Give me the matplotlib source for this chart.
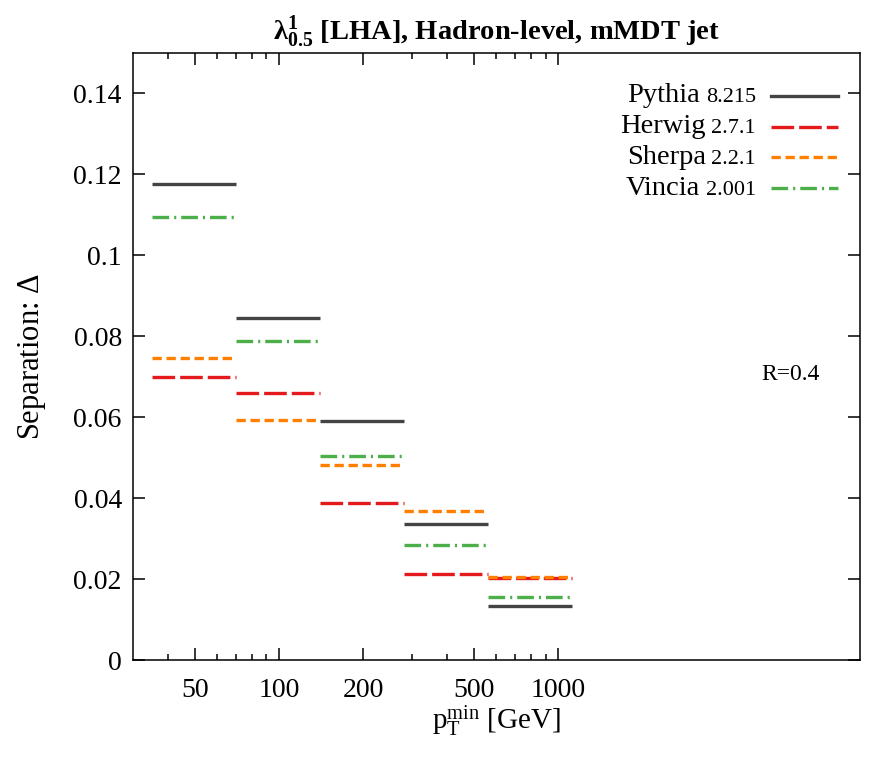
import numpy as np
import matplotlib
matplotlib.use("Agg")
from matplotlib import pyplot as plt
from matplotlib.lines import Line2D
from matplotlib.offsetbox import TextArea, DrawingArea, HPacker, VPacker, AnchoredOffsetbox

plt.rcParams['font.family'] = 'Liberation Serif'
plt.rcParams['mathtext.fontset'] = 'custom'
plt.rcParams['mathtext.rm'] = 'Liberation Serif'
plt.rcParams['mathtext.it'] = 'Liberation Serif:italic'
plt.rcParams['mathtext.bf'] = 'Liberation Serif:bold'
plt.rcParams['lines.scale_dashes'] = False

# pT bin edges [GeV]
edges = [35, 70, 140, 280, 560, 1120]

# separation per bin
pythia = [0.1177, 0.0845, 0.0590, 0.0337, 0.0133]
herwig = [0.0700, 0.0659, 0.0389, 0.0212, 0.0203]
sherpa = [0.0746, 0.0592, 0.0482, 0.0367, 0.0206]
vincia = [0.1095, 0.0788, 0.0503, 0.0283, 0.0155]

names = ["Pythia", "Herwig", "Sherpa", "Vincia"]
versions = ["8.215", "2.7.1", "2.2.1", "2.001"]

styles = [
    dict(color="#444444", linestyle="-"),
    dict(color="#e41a1c", linestyle=(0, (16.3, 3.6))),
    dict(color="#ff7f00", linestyle=(0, (6.7, 3.4))),
    dict(color="#4daf4a", linestyle=(0, (12, 3.6, 1.5, 3.6))),
]

fig = plt.figure(figsize=(8.86, 7.67), dpi=100)
ax = fig.add_axes([0.150, 0.1395, 0.8207, 0.7915])

lo = np.array(edges[:-1])
hi = np.array(edges[1:])
for vals, st in zip([pythia, herwig, sherpa, vincia], styles):
    ax.hlines(vals, lo, hi, linewidth=2.4, capstyle="butt", **st)

ax.set_xscale("log")
ax.set_xlim(30, 12000)
ax.set_ylim(0, 0.15)

ax.set_xticks([50, 100, 200, 500, 1000])
ax.set_xticklabels(["50", "100", "200", "500", "1000"])
ax.set_xticks([40, 60, 70, 80, 90, 300, 400, 600, 700, 800, 900], minor=True)
ax.xaxis.set_minor_formatter(matplotlib.ticker.NullFormatter())
ax.set_yticks([0, 0.02, 0.04, 0.06, 0.08, 0.1, 0.12, 0.14])
ax.set_yticklabels(["0", "0.02", "0.04", "0.06", "0.08", "0.1", "0.12", "0.14"])

ax.tick_params(which="both", direction="in", top=True, right=True, labelsize=20, width=1.1)
ax.tick_params(which="major", length=8.5)
ax.tick_params(which="minor", length=4.3)
ax.tick_params(axis="x", pad=13)
ax.tick_params(axis="y", pad=8)
for s in ax.spines.values():
    s.set_linewidth(1.1)

ax.set_xlabel(r"$\mathregular{p_T^{min}}$ [GeV]", fontsize=21, labelpad=0)
ax.set_ylabel(r"Separation: $\mathregular{\Delta}$", fontsize=22, labelpad=18)
ax.set_title(r"$\mathbf{λ^1_{0.5}}$ [LHA], Hadron-level, mMDT jet", fontsize=20.5,
             fontweight="bold", pad=9)

ax.text(0.904, 0.47, "R=0.4", transform=ax.transAxes, fontsize=17, ha="center", va="center")

rows = []
for name, ver, st in zip(names, versions, styles):
    t1 = TextArea(name, textprops=dict(fontsize=20.5))
    t2 = TextArea(ver, textprops=dict(fontsize=16))
    txt = HPacker(children=[t1, t2], align="baseline", pad=0, sep=4)
    da = DrawingArea(48, 8, 0, 0)
    da.add_artist(Line2D([0, 48], [4, 4], linewidth=2.4, **st))
    rows.append(HPacker(children=[txt, da], align="center", pad=0, sep=11))
box = VPacker(children=rows, align="right", pad=0, sep=4.2)
anch = AnchoredOffsetbox(loc="upper right", child=box, pad=0, borderpad=0,
                         bbox_to_anchor=(0.9697, 0.950), bbox_transform=ax.transAxes,
                         frameon=False)
ax.add_artist(anch)

fig.savefig("out.png", dpi=100)
